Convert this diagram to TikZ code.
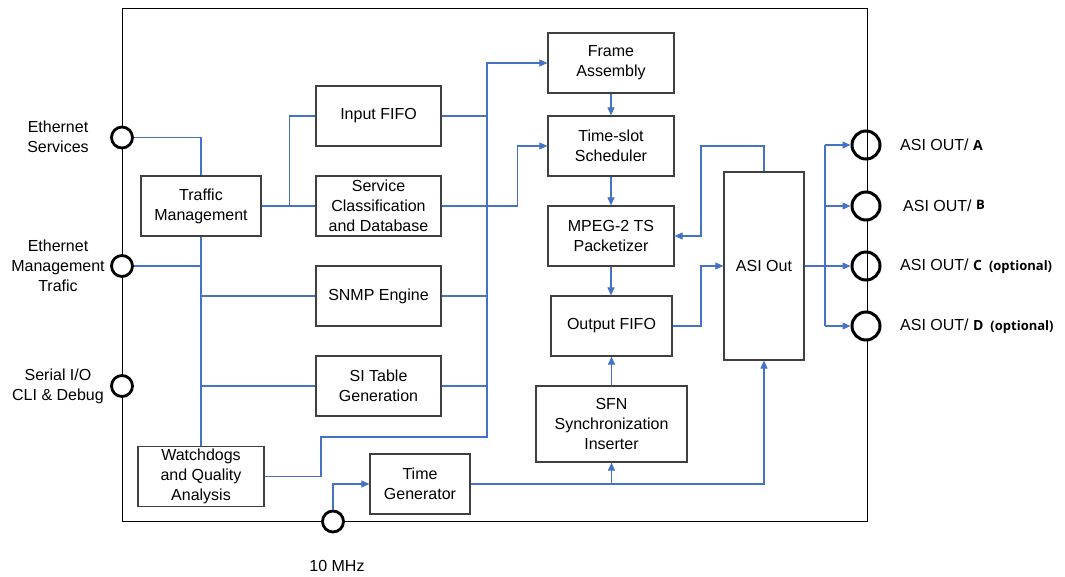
\documentclass[tikz,border=0pt]{standalone}
\usepackage{fontspec}
\setmainfont{Liberation Sans}
\newfontfamily\kofont{Open Sans}
\usetikzlibrary{arrows.meta,calc}
\definecolor{conblue}{HTML}{4472C4}
\definecolor{boxgray}{HTML}{404040}
\begin{document}
\begin{tikzpicture}[x=1pt,y=-1pt,
  every node/.style={font=\fontsize{16}{20}\selectfont},
  blk/.style={draw=boxgray,line width=1.2pt,inner sep=0pt,align=center,fill=white},
  port/.style={circle,draw=black,line width=2.8pt,inner sep=0pt,minimum size=21pt},
  wport/.style={port,fill=white},
  bport/.style={port,minimum size=28pt,line width=3pt},
  conn/.style={draw=conblue,line width=1.1pt},
  tip/.style={conn,-{Triangle[length=8pt,width=7pt]}},
  lbl/.style={align=center,inner sep=0pt}]
\useasboundingbox (0,0) rectangle (1065,576);
% outer frame
\node[draw=black,line width=1pt,inner sep=0pt,minimum width=745pt,minimum height=513pt] (frame) at (494.5,264.5) {};
% blocks
\node[blk,minimum width=120pt,minimum height=60pt] (tm) at (201,206) {Traffic\\Management};
\node[blk,minimum width=125pt,minimum height=60pt] (inf) at (378.5,116) {Input FIFO};
\node[blk,minimum width=125pt,minimum height=60pt] (scd) at (378.5,206) {Service\\Classification\\and Database};
\node[blk,minimum width=125pt,minimum height=60pt] (snmp) at (378.5,296) {SNMP Engine};
\node[blk,minimum width=125pt,minimum height=60pt] (sit) at (378.5,386) {SI Table\\Generation};
\node[blk,minimum width=126pt,minimum height=60pt] (wd) at (201,476.5) {Watchdogs\\and Quality\\Analysis};
\node[blk,minimum width=100pt,minimum height=60pt] (tg) at (420,484) {Time\\Generator};
\node[blk,minimum width=126pt,minimum height=60pt] (fa) at (611,63) {Frame\\Assembly};
\node[blk,minimum width=126pt,minimum height=60pt] (ts) at (611,146) {Time-slot\\Scheduler};
\node[blk,minimum width=126pt,minimum height=60pt] (mp) at (611,236) {MPEG-2 TS\\Packetizer};
\node[blk,minimum width=121pt,minimum height=60pt] (of) at (611.5,326) {Output FIFO};
\node[blk,minimum width=151pt,minimum height=76pt] (sfn) at (611.5,424) {SFN\\Synchronization\\Inserter};
\node[blk,minimum width=80pt,minimum height=188pt] (asi) at (764,266) {ASI Out};
% ports
\node[wport] (pes) at (122,137.5) {};
\node[wport] (pem) at (122,266) {};
\node[wport] (pser) at (122,386) {};
\node[wport] (p10) at (333,521.5) {};
\node[bport] (pa) at (866,145) {};
\node[bport,fill=white] (pb) at (866,206) {};
\node[bport] (pc) at (866,266) {};
\node[bport,fill=white] (pd) at (866,326) {};
% port labels
\node[lbl] (les) at (58,137) {Ethernet\\Services};
\node[lbl] (lem) at (58,266) {Ethernet\\Management\\Trafic};
\node[lbl] (lser) at (58,386) {Serial I/O\\CLI \& Debug};
\node[lbl] (l10) at (337,566) {10 MHz};
\node[lbl,anchor=west] (la) at (900,145) {ASI OUT/ {\kofont\bfseries\fontsize{14}{16}\selectfont A}};
\node[lbl,anchor=west] (lb) at (903,206) {ASI OUT/ \raisebox{2pt}{\kofont\bfseries\fontsize{13}{15}\selectfont B}};
\node[lbl,anchor=west] (lc) at (900,266) {ASI OUT/ {\kofont\bfseries\fontsize{14}{16}\selectfont C\hspace{7pt}{\fontsize{13}{15}\selectfont(optional)}}};
\node[lbl,anchor=west] (ld) at (900,326) {ASI OUT/ {\kofont\bfseries\fontsize{14}{16}\selectfont D\hspace{7pt}{\fontsize{13}{15}\selectfont(optional)}}};
% helper coordinates
\coordinate (bus) at (487,0);
\coordinate (wdk) at (321,437);
\coordinate (fb) at (701,146);
\coordinate (fan) at (825,0);
% left side connections
\draw[conn] (pes) -| (tm.north);
\draw[conn] (tm.south) -- (wd.north);
\draw[conn] (pem) -- (pem -| tm.south);
\draw[conn] (snmp.west) -- (snmp.west -| tm.south);
\draw[conn] (sit.west) -- (sit.west -| tm.south);
\draw[conn] (tm.east) -- (scd.west);
\draw[conn] (tm.east) -| ([xshift=-26pt]inf.west) -- (inf.west);
% bus to frame assembly
\draw[tip] (wd.east) -| (wdk) -| (bus |- fa.west) -- (fa.west);
\draw[conn] (inf.east) -- (inf.east -| bus);
\draw[conn] (scd.east) -- (scd.east -| bus);
\draw[conn] (snmp.east) -- (snmp.east -| bus);
\draw[conn] (sit.east) -- (sit.east -| bus);
\draw[tip] (scd.east) -| ([xshift=-30pt]ts.west) -- (ts.west);
% processing chain
\draw[tip] (fa.south) -- (ts.north);
\draw[tip] (ts.south) -- (mp.north);
\draw[tip] (mp.south) -- (mp.south |- of.north);
\draw[tip] (asi.north) |- (fb) |- (mp.east);
\draw[tip] (of.east) -| (fb |- asi.west) -- (asi.west);
\draw[tip] (sfn.north) -- (sfn.north |- of.south);
% outputs
\draw[conn] (asi.east) -- (asi.east -| fan);
\draw[conn] (fan |- pa) -- (fan |- pd);
\draw[tip] (fan |- pa) -- (pa);
\draw[tip] (fan |- pb) -- (pb);
\draw[tip] (fan |- pc) -- (pc);
\draw[tip] (fan |- pd) -- (pd);
% timing
\draw[tip] (p10) |- (tg.west);
\draw[tip] (tg.east) -| (asi.south);
\draw[tip] (tg.east -| sfn.south) -- (sfn.south);
\end{tikzpicture}
\end{document}
